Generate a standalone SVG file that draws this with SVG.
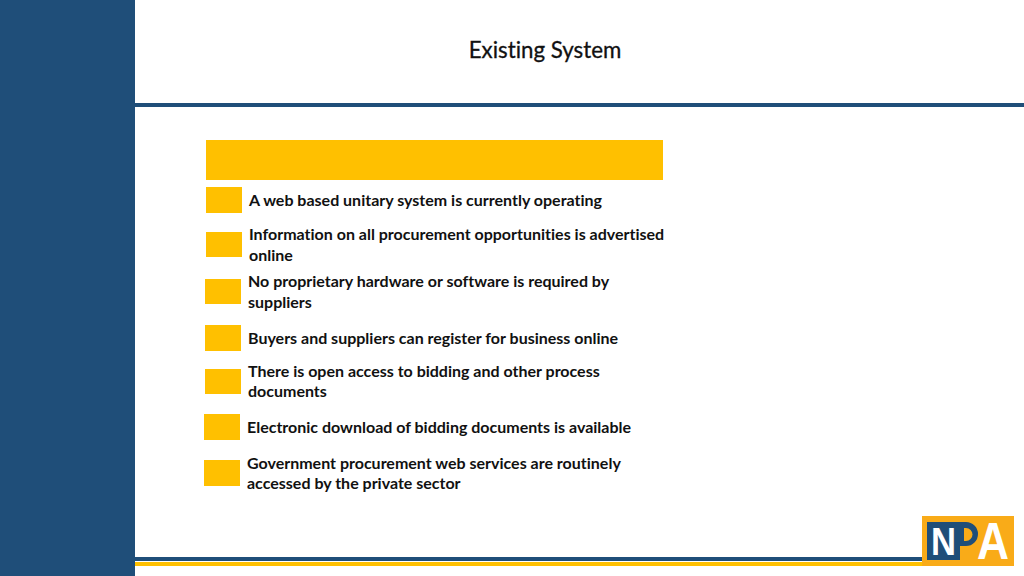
<svg xmlns="http://www.w3.org/2000/svg" width="1024" height="576" viewBox="0 0 1024 576">
<style>
.y{fill:#ffc000}
.n{fill:#1f4e79}
.t{font-family:Lato,"Liberation Sans",sans-serif;font-weight:700;font-size:16px;fill:#111;font-variant-ligatures:none}
.h{font-family:Lato,"Liberation Sans",sans-serif;font-size:22.3px;fill:#111;stroke:#111;stroke-width:.3px;text-anchor:middle;font-variant-ligatures:none}
.l{font-family:"Liberation Sans",Arial,sans-serif;font-weight:700;fill:#fff}
</style>
<rect width="1024" height="576" fill="#fff"/>
<g id="frame">
<rect class="n" x="0" y="0" width="135" height="576"/>
<rect class="n" x="135" y="103" width="889" height="4"/>
<rect class="n" x="135" y="557" width="795" height="4"/>
<rect class="y" x="135" y="562" width="790" height="4"/>
</g>
<g id="title"><text class="h" x="545" y="58">Existing System</text></g>
<g id="banner"><rect class="y" x="206" y="140" width="457" height="40"/></g>
<g id="item1"><rect class="y" x="206" y="187" width="36" height="26"/><text class="t" x="249" y="206">A web based unitary system is currently operating</text></g>
<g id="item2"><rect class="y" x="206" y="232" width="36" height="25"/><text class="t" x="249" y="240">Information on all procurement opportunities is advertised</text><text class="t" x="249" y="261">online</text></g>
<g id="item3"><rect class="y" x="205" y="279" width="36" height="25"/><text class="t" x="248" y="287">No proprietary hardware or software is required by</text><text class="t" x="248" y="308">suppliers</text></g>
<g id="item4"><rect class="y" x="205" y="325" width="36" height="26"/><text class="t" x="248" y="344">Buyers and suppliers can register for business online</text></g>
<g id="item5"><rect class="y" x="205" y="369" width="36" height="25"/><text class="t" x="248" y="377">There is open access to bidding and other process</text><text class="t" x="248" y="397">documents</text></g>
<g id="item6"><rect class="y" x="204" y="414" width="36" height="26"/><text class="t" x="247" y="433">Electronic download of bidding documents is available</text></g>
<g id="item7"><rect class="y" x="204" y="460" width="36" height="26"/><text class="t" x="247" y="469">Government procurement web services are routinely</text><text class="t" x="247" y="489">accessed by the private sector</text></g>
<g id="logo">
<rect x="922" y="516" width="92" height="50" fill="#f9ab18"/>
<path class="n" d="M927 522H966A12 12 0 0 1 966 546H960V560H927Z"/>
<path d="M964 528H966A6 6 0 0 1 966 541H964Z" fill="#f9ab18"/>
<text class="l" x="931" y="555" font-size="39" textLength="25" lengthAdjust="spacingAndGlyphs">N</text>
<text class="l" x="977" y="559" font-size="51" textLength="32" lengthAdjust="spacingAndGlyphs">A</text>
</g>
</svg>
